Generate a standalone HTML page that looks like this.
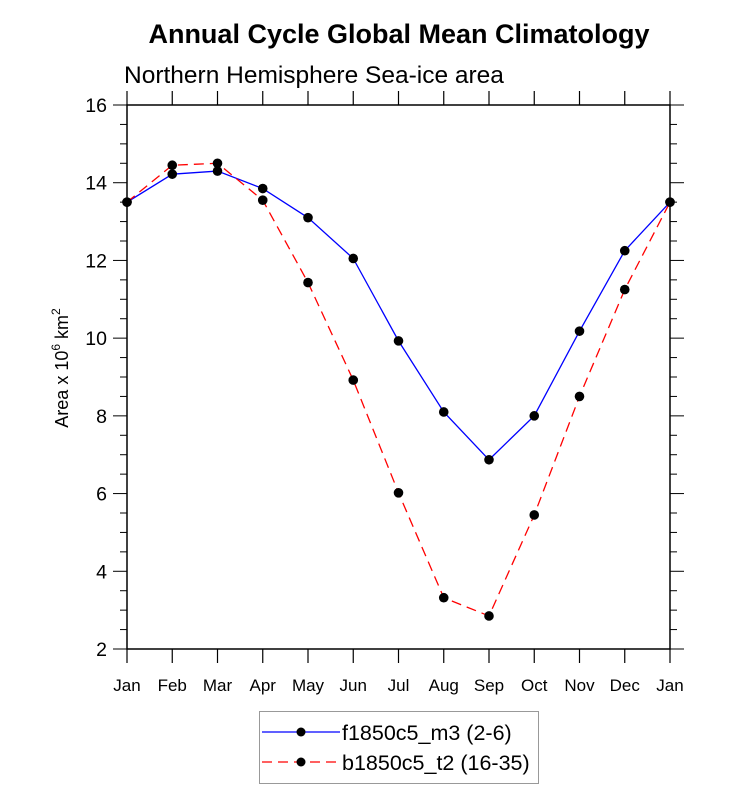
<!DOCTYPE html>
<html><head><meta charset="utf-8"><style>
body{margin:0;background:#fff;}
svg text{font-family:"Liberation Sans",Arial,sans-serif;}
</style></head><body>
<svg id="chart" width="733" height="806" xmlns="http://www.w3.org/2000/svg">
<text x="399" y="43" text-anchor="middle" font-size="27" font-weight="bold">Annual Cycle Global Mean Climatology</text>
<text x="124" y="83" font-size="24.5">Northern Hemisphere Sea-ice area</text>
<text transform="translate(68,368) rotate(-90)" text-anchor="middle" font-size="18">Area x 10<tspan dy="-8" font-size="12">6</tspan><tspan dy="8"> km</tspan><tspan dy="-8" font-size="12">2</tspan></text>
<g id="axes"></g>
<g id="series"></g>
<g>
<rect x="259.5" y="711.5" width="279" height="72" fill="#fff" stroke="#999" stroke-width="1"/>
<line x1="262" y1="732" x2="340" y2="732" stroke="#0000ff" stroke-width="1.2"/>
<circle cx="301" cy="732" r="4.5" fill="#000"/>
<text x="342" y="740" font-size="21.5">f1850c5_m3 (2-6)</text>
<line x1="262" y1="762" x2="340" y2="762" stroke="#ff0000" stroke-width="1.2" stroke-dasharray="10,6"/>
<circle cx="301" cy="762" r="4.5" fill="#000"/>
<text x="342" y="770" font-size="21.5">b1850c5_t2 (16-35)</text>
</g>
</svg>
<script>
const months=["Jan","Feb","Mar","Apr","May","Jun","Jul","Aug","Sep","Oct","Nov","Dec","Jan"];
const seriesF=[13.5,14.22,14.3,13.85,13.1,12.05,9.93,8.1,6.87,8.0,10.18,12.25,13.5];
const seriesB=[13.5,14.45,14.5,13.55,11.43,8.92,6.02,3.32,2.85,5.45,8.5,11.25,13.5];
const yTicks=[2,4,6,8,10,12,14,16];
const NS="http://www.w3.org/2000/svg";
const L=127,R=670,T=105,B=649,ymin=2,ymax=16;
const xs=i=>L+i*(R-L)/(months.length-1);
const ys=v=>B-(v-ymin)*(B-T)/(ymax-ymin);
function mk(p,tag,at){const e=document.createElementNS(NS,tag);for(const k in at)e.setAttribute(k,at[k]);p.appendChild(e);return e;}
const ax=document.getElementById('axes');
const frame=mk(ax,'rect',{x:L,y:T,width:R-L,height:B-T,fill:'none',stroke:'#000','stroke-width':1.5});


months.forEach((m,i)=>{
 const x=xs(i);
 mk(ax,'line',{x1:x,y1:B,x2:x,y2:B+14,stroke:'#000','stroke-width':1.2});
 mk(ax,'line',{x1:x,y1:T,x2:x,y2:T-14,stroke:'#000','stroke-width':1.2});
 const t=mk(ax,'text',{x:x,y:691,'text-anchor':'middle','font-size':17});
 t.textContent=m;
 
 
});
for(let v=ymin;v<=ymax+1e-9;v+=0.5){
 const y=ys(v),maj=Math.abs(v-Math.round(v/2)*2)<1e-6,len=maj?14:7;
 mk(ax,'line',{x1:L,y1:y,x2:L-len,y2:y,stroke:'#000','stroke-width':1});
 mk(ax,'line',{x1:R,y1:y,x2:R+len,y2:y,stroke:'#000','stroke-width':1});
}
yTicks.forEach(v=>{
 const t=mk(ax,'text',{x:107,y:ys(v)+7,'text-anchor':'end','font-size':19.5});
 t.textContent=v;
 
 
});
const sg=document.getElementById('series');
function draw(vals,color,dash,name){
 const pl=mk(sg,'polyline',{points:vals.map((v,i)=>xs(i)+','+ys(v)).join(' '),fill:'none',stroke:color,'stroke-width':1.3});
 if(dash)pl.setAttribute('stroke-dasharray',dash);
 
 
 vals.forEach((v,i)=>{
  const c=mk(sg,'circle',{cx:xs(i),cy:ys(v),r:4.8,fill:'#000'});
  
  
 });
}
draw(seriesF,'#0000ff',null,'f1850c5');
draw(seriesB,'#ff0000','10,6','b1850c5');
</script>
</body></html>
